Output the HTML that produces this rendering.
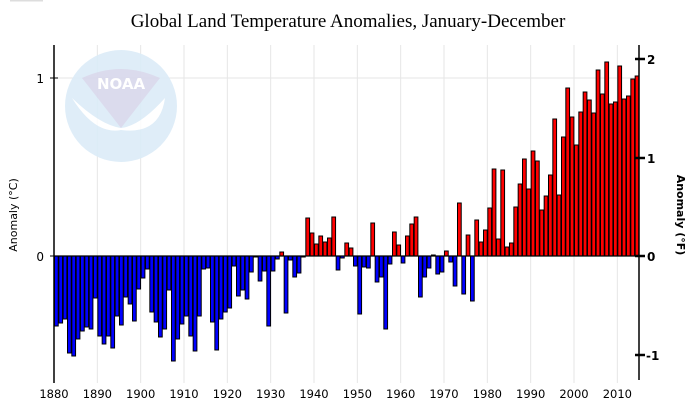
<!DOCTYPE html>
<html><head><meta charset="utf-8"><style>
html,body{margin:0;padding:0;background:#fff;width:697px;height:414px;overflow:hidden}
svg text{font-family:"DejaVu Sans","Liberation Sans",sans-serif}
</style></head><body>
<svg id="c" width="697" height="414" viewBox="0 0 697 414" xmlns="http://www.w3.org/2000/svg">
<rect x="10" y="0" width="33" height="1.5" fill="#ddd"/>
<text x="348" y="27" text-anchor="middle" font-size="19" style="font-family:'Liberation Serif',serif">Global Land Temperature Anomalies, January-December</text>
<g id="grid"></g>
<line x1="54" y1="78" x2="639" y2="78" stroke="#e6e6e6" stroke-width="1"/>
<g opacity="0.9">
<circle cx="121" cy="106" r="56" fill="#dcecf8"/>
<path d="M82 78 Q121 60 160 78 L121 128 Z" fill="#d8d8ec"/>
<path d="M72 98 Q100 125 121 128 Q140 126 165 98 Q160 135 121 130 Q95 135 72 98 Z" fill="#fff"/>
<text x="121" y="89" text-anchor="middle" font-size="15" font-weight="bold" fill="#fff">NOAA</text>
</g>
<g id="bars"></g>
<line x1="54" y1="45" x2="54" y2="383" stroke="#000" stroke-width="1.5"/>
<line x1="639" y1="45" x2="639" y2="380" stroke="#000" stroke-width="1.5"/>
<line x1="50" y1="78" x2="58" y2="78" stroke="#000"/>
<line x1="50" y1="256" x2="58" y2="256" stroke="#000"/>
<text x="44" y="83" text-anchor="end" font-size="12">1</text>
<text x="44" y="261" text-anchor="end" font-size="12">0</text>
<g stroke="#000" stroke-width="2.5">
<line x1="635" y1="59" x2="645" y2="59"/><line x1="635" y1="158" x2="645" y2="158"/>
<line x1="635" y1="256" x2="645" y2="256"/><line x1="635" y1="355" x2="645" y2="355"/>
</g>
<g font-size="12" font-weight="bold">
<text x="647" y="64">2</text><text x="647" y="163">1</text><text x="647" y="261">0</text><text x="646" y="360">-1</text>
</g>
<text transform="translate(17,215) rotate(-90)" text-anchor="middle" font-size="11">Anomaly (°C)</text>
<text transform="translate(677,215) rotate(90)" text-anchor="middle" font-size="11" font-weight="bold">Anomaly (°F)</text>
<g id="xl" font-size="11.5" text-anchor="middle"></g>
</svg>
<script>
var d=[-70,-67,-63,-97,-100,-83,-75,-71,-73,-42,-80,-88,-80,-92,-60,-69,-41,-48,-65,-33,-22,-13,-56,-66,-81,-73,-34,-105,-83,-68,-60,-80,-95,-60,
-13,-12,-66,-94,-63,-56,-52,-10,-40,-34,-43,-16,-1,-25,-15,-70,-15,-3,4,-57,-4,-21,-17,-1,38,23,12,20,14,18,39,-14,-2,13,
8,-10,-58,-11,-12,33,-26,-21,-73,-8,24,11,-7,20,32,39,-41,-21,-12,1,-18,-16,5,-6,-30,53,-38,21,-45,36,14,26,48,
87,17,86,9,13,49,72,97,67,105,95,46,60,81,137,61,119,168,139,111,144,164,156,143,186,162,194,152,154,190,157,160,177,180];
var NS="http://www.w3.org/2000/svg",w=585/135,b=document.getElementById('bars'),g=document.getElementById('grid'),xl=document.getElementById('xl');
function el(t,a,p){var e=document.createElementNS(NS,t);for(var k in a)e.setAttribute(k,a[k]);p.appendChild(e);return e;}
for(var yr=1880;yr<=2010;yr+=10){var x=54+(yr-1880)*w;
 if(yr>1880)el('line',{x1:x,y1:45,x2:x,y2:383,stroke:'#e6e6e6','stroke-width':1},g);
 var t=el('text',{x:x,y:398},xl);t.textContent=yr;}
for(var i=0;i<d.length;i++){var v=d[i],x=54+i*w,y=v>=0?256-v:256,h=Math.max(Math.abs(v),0.5);
 el('rect',{x:x+0.5,y:y,width:w-0.6,height:h,fill:v>=0?'#ff0000':'#0000ff',stroke:'#000','stroke-width':1},b);}
el('line',{x1:54,y1:256,x2:639,y2:256,stroke:'#000','stroke-width':1.2},b);
</script>
</body></html>
